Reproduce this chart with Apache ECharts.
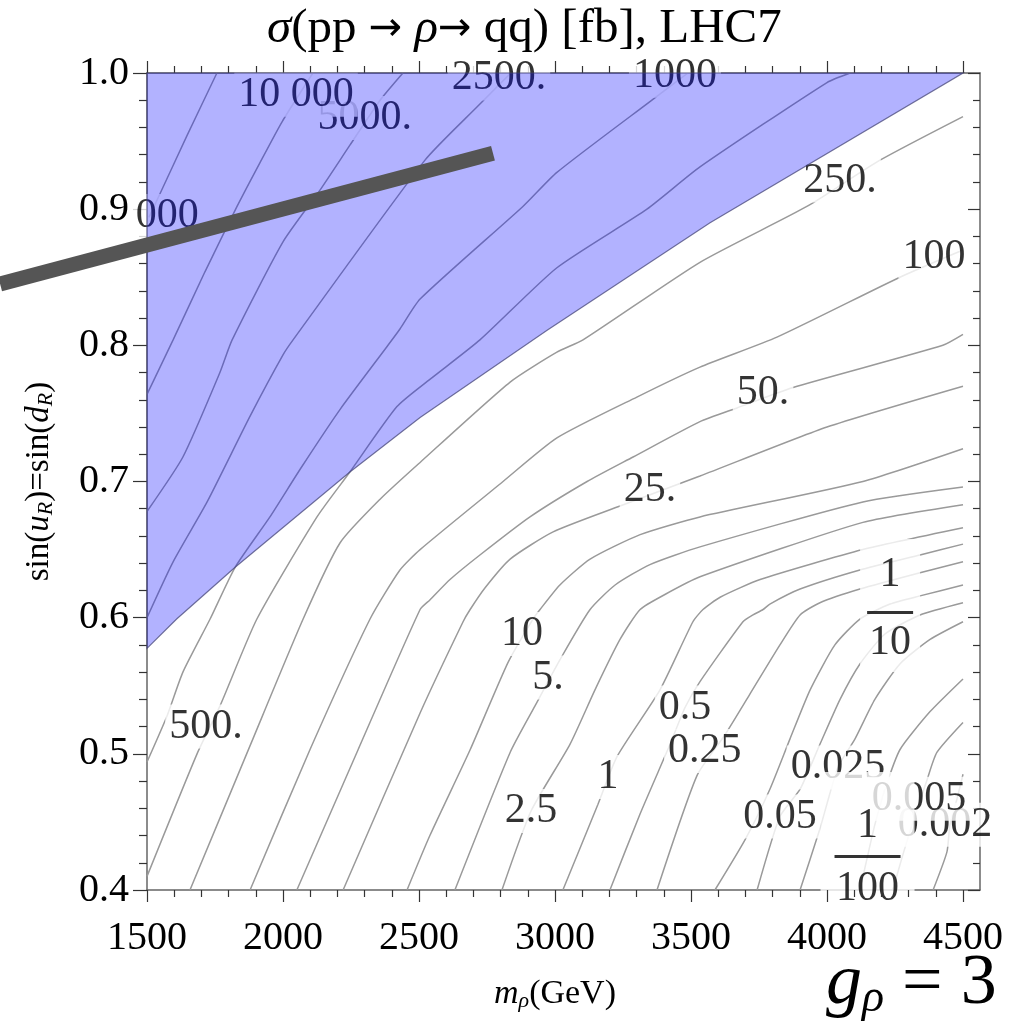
<!DOCTYPE html>
<html>
<head>
<meta charset="utf-8">
<script src="https://cdn.jsdelivr.net/npm/echarts@6/dist/echarts.min.js"></script>
<style>
  html, body { margin: 0; padding: 0; background: #fff; }
  #chart { width: 1009px; height: 1034px; }
</style>
</head>
<body>
<div id="chart"></div>
<script>
const serif = "'Liberation Serif', 'Times New Roman', serif";

// contour lines, [m_rho (GeV), sin(u_R)]
const c25000 = [[1757,1.0],[1647,0.954],[1540,0.908],[1507,0.894]];
const c10000 = [[2110,1.0],[1996,0.964],[1915,0.934],[1831,0.902],[1713,0.854],[1596,0.804],[1500,0.764]];
const c5000 = [[2441,1.0],[2357,0.980],[2246,0.947],[2136,0.914],[2000,0.876],[1813,0.804],[1768,0.780],[1632,0.718],[1500,0.678]];
const c2500 = [[2838,1.0],[2713,0.975],[2522,0.936],[2037,0.804],[2000,0.793],[1879,0.748],[1721,0.685],[1596,0.641],[1500,0.600]];
const c1000 = [[3489,1.0],[3349,0.979],[3007,0.927],[2882,0.902],[2504,0.834],[2430,0.812],[2382,0.799],[2210,0.753],[2063,0.709],[1952,0.674],[1824,0.637],[1732,0.599],[1632,0.560],[1574,0.528],[1500,0.494]];
const c500 = [[4085,1.0],[4000,0.993],[3533,0.931],[3338,0.900],[3007,0.857],[2724,0.804],[2540,0.775],[2419,0.755],[2246,0.707],[2125,0.674],[1904,0.599],[1768,0.535],[1684,0.500],[1500,0.410]];
const c250 = [[4500,0.968],[4195,0.936],[3926,0.902],[3533,0.861],[3103,0.804],[3007,0.795],[2835,0.773],[2504,0.714],[2357,0.687],[2210,0.655],[2074,0.599],[1879,0.506],[1658,0.400]];
const c100 = [[4500,0.870],[4268,0.850],[3816,0.806],[3533,0.784],[3301,0.762],[3007,0.732],[2809,0.700],[2504,0.650],[2430,0.635],[2320,0.599],[2099,0.503],[1879,0.400]];
const c50 = [[4500,0.808],[4426,0.800],[3875,0.769],[3669,0.754],[3533,0.744],[3287,0.718],[3118,0.700],[2908,0.674],[2724,0.646],[2614,0.628],[2540,0.613],[2504,0.606],[2276,0.503],[2051,0.400]];
const c25 = [[4500,0.770],[4000,0.740],[3533,0.704],[3239,0.682],[2993,0.663],[2835,0.643],[2743,0.622],[2688,0.606],[2662,0.597],[2504,0.530],[2221,0.400]];
const c10 = [[4500,0.724],[4132,0.700],[3533,0.674],[3313,0.661],[3129,0.643],[3018,0.624],[2945,0.606],[2919,0.599],[2827,0.567],[2688,0.503],[2540,0.440],[2456,0.400]];
const c5 = [[4500,0.696],[4132,0.685],[3533,0.652],[3349,0.639],[3221,0.624],[3129,0.606],[3018,0.569],[2926,0.535],[2835,0.501],[2632,0.400]];
const c2p5 = [[4500,0.683],[4132,0.670],[3533,0.630],[3404,0.617],[3313,0.606],[3239,0.584],[3147,0.547],[3055,0.507],[2912,0.458],[2805,0.400]];
const c1 = [[4500,0.666],[4132,0.650],[3754,0.628],[3607,0.615],[3544,0.606],[3507,0.597],[3386,0.547],[3228,0.498],[3158,0.463],[3029,0.400]];
const c0p5 = [[4500,0.654],[4342,0.646],[4121,0.635],[3901,0.621],[3790,0.610],[3765,0.606],[3728,0.602],[3691,0.597],[3533,0.553],[3478,0.534],[3423,0.507],[3313,0.456],[3202,0.400]];
const c0p25 = [[4500,0.641],[4342,0.633],[4121,0.621],[3974,0.611],[3901,0.602],[3827,0.580],[3717,0.544],[3625,0.514],[3522,0.484],[3375,0.400]];
const c0p1 = [[4500,0.624],[4342,0.616],[4232,0.610],[4121,0.599],[4029,0.580],[3938,0.547],[3864,0.511],[3790,0.474],[3699,0.437],[3588,0.400]];
const c0p05 = [[4500,0.611],[4342,0.602],[4213,0.588],[4121,0.566],[4048,0.540],[3974,0.507],[3901,0.474],[3827,0.454],[3743,0.400]];
const c0p025 = [[4500,0.597],[4379,0.584],[4268,0.566],[4176,0.540],[4103,0.511],[4040,0.490],[3974,0.445],[3901,0.400]];
const c0p01 = [[4500,0.555],[4379,0.531],[4268,0.503],[4213,0.474],[4176,0.448],[4147,0.423],[4121,0.400]];
const c0p005 = [[4500,0.523],[4404,0.501],[4368,0.481],[4324,0.455],[4279,0.426],[4242,0.400]];
const c0p0025 = [[4500,0.485],[4478,0.467],[4452,0.448],[4441,0.428],[4390,0.400]];

const levels = ['25000','10000','5000','2500','1000','500','250','100','50','25','10','5','2.5','1','0.5','0.25','0.1','0.05','0.025','0.01','0.005','0.0025'];
const contours = [c25000,c10000,c5000,c2500,c1000,c500,c250,c100,c50,c25,c10,c5,c2p5,c1,c0p5,c0p25,c0p1,c0p05,c0p025,c0p01,c0p005,c0p0025];

// blue excluded region (boundary curve, then top-left corner)
const region = [[1500,0.5775],[1609,0.599],[1824,0.637],[2246,0.707],[2504,0.747],[2971,0.811],[3570,0.890],[4500,1.0],[1500,1.0]];

// thick grey bar
const bar = [[960,0.845],[2772,0.941]];

// contour labels
const labelText = ['000','5000.','10 000','2500.','1000','500.','250.','100','50.','25.','10','5.','2.5','1','0.5','0.25',
  '{num1|1}\n{bar1| }\n{den1|10}','0.05','0.025','0.002','0.005','{sp2| }\n{num2|1}\n{bar2| }\n{den2|100}'];
const labelX = [1574,2301,2048,2794,3441,1717,4048,4393,3765,3349,2879,2974,2912,3195,3478,3551,4232,3827,4040,4434,4338,4149];
const labelY = [0.895,0.967,0.984,0.996,0.998,0.520,0.921,0.865,0.765,0.694,0.588,0.556,0.458,0.483,0.534,0.502,0.609,0.454,0.490,0.448,0.467,0.4323];

const xTicks = [1500, 4500, 500];
const yTicks = [0.4, 1.0, 0.1];

const chart = echarts.init(document.getElementById('chart'));

const frameLine = { show: true, lineStyle: { color: '#666', width: 1.5 } };
const tickStyle = { color: '#333', width: 1.2 };

const lineSeries = contours.map((pts, i) => ({
  name: levels[i],
  type: 'line',
  xAxisIndex: 2,
  yAxisIndex: 2,
  data: pts,
  symbol: 'none',
  smooth: 0.2,
  silent: true,
  z: 2,
  lineStyle: { color: '#9a9a9a', width: 1.5 }
}));

const labelData = labelText.map((t, i) => {
  const item = { value: [labelX[i], labelY[i]], label: { formatter: t } };
  if (t.indexOf('bar1') >= 0) item.label.padding = [0, 7];
  if (t.indexOf('bar2') >= 0) item.label.padding = [0, 14];
  return item;
});

const option = {
  animation: false,
  title: {
    text: '{i|σ}(pp {a|→} {i|ρ}{a|→} qq) [fb], LHC7',
    left: 262,
    top: 0,
    textStyle: {
      fontFamily: serif, fontSize: 49, fontWeight: 'normal', color: '#000',
      rich: {
        i: { fontFamily: serif, fontSize: 49, fontStyle: 'italic', color: '#000' },
        a: { fontFamily: 'DejaVu Sans', fontSize: 40, color: '#000' }
      }
    }
  },
  grid: [
    { left: 147, right: 29, top: 73, bottom: 144 },
    { left: 147, right: 46, top: 73, bottom: 144 }
  ],
  xAxis: [
    { gridIndex: 0, type: 'value', min: 1500, max: 4562.5, axisLine: frameLine,
      axisTick: { show: false }, axisLabel: { show: false }, splitLine: { show: false } },
    { gridIndex: 0, type: 'value', position: 'top', min: 1500, max: 4562.5, axisLine: frameLine,
      axisTick: { show: false }, axisLabel: { show: false }, splitLine: { show: false } },
    { gridIndex: 1, type: 'value', min: xTicks[0], max: xTicks[1], interval: xTicks[2],
      z: 10,
      axisLine: { show: false },
      axisTick: { show: true, inside: false, length: 12, lineStyle: tickStyle },
      minorTick: { show: true, splitNumber: 5, length: 7, lineStyle: tickStyle },
      axisLabel: { fontFamily: serif, fontSize: 40, color: '#000', margin: 28, formatter: v => String(v) },
      splitLine: { show: false },
      name: '{i|m}{s|ρ}(GeV)', nameLocation: 'middle', nameGap: 86,
      nameTextStyle: {
        fontFamily: serif, fontSize: 34, color: '#000',
        rich: {
          i: { fontFamily: serif, fontSize: 34, fontStyle: 'italic', color: '#000' },
          s: { fontFamily: serif, fontSize: 22, fontStyle: 'italic', color: '#000', padding: [14, 0, 0, 0] }
        }
      }
    },
    { gridIndex: 1, type: 'value', position: 'top', min: xTicks[0], max: xTicks[1], interval: xTicks[2],
      axisLine: { show: false },
      axisTick: { show: true, inside: false, length: 12, lineStyle: tickStyle },
      minorTick: { show: true, splitNumber: 5, length: 7, lineStyle: tickStyle },
      axisLabel: { show: false }, splitLine: { show: false } }
  ],
  yAxis: [
    { gridIndex: 0, type: 'value', min: 0.4, max: 1, axisLine: frameLine,
      axisTick: { show: false }, axisLabel: { show: false }, splitLine: { show: false } },
    { gridIndex: 0, type: 'value', position: 'right', min: yTicks[0], max: yTicks[1], interval: yTicks[2],
      axisLine: frameLine,
      axisTick: { show: true, inside: true, length: 12, lineStyle: tickStyle },
      minorTick: { show: true, splitNumber: 5, length: 7, lineStyle: tickStyle },
      axisLabel: { show: false }, splitLine: { show: false } },
    { gridIndex: 1, type: 'value', min: yTicks[0], max: yTicks[1], interval: yTicks[2],
      axisLine: { show: false },
      axisTick: { show: true, inside: false, length: 14, lineStyle: tickStyle },
      minorTick: { show: true, splitNumber: 5, length: 8, lineStyle: tickStyle },
      axisLabel: { fontFamily: serif, fontSize: 40, color: '#000', margin: 18, formatter: v => v.toFixed(1) },
      splitLine: { show: false },
      name: 'sin({i|u}{s|R})=sin({i|d}{s|R})', nameLocation: 'middle', nameGap: 90,
      nameTextStyle: {
        fontFamily: serif, fontSize: 33, color: '#000',
        rich: {
          i: { fontFamily: serif, fontSize: 33, fontStyle: 'italic', color: '#000' },
          s: { fontFamily: serif, fontSize: 22, fontStyle: 'italic', color: '#000', padding: [14, 0, 0, 0] }
        }
      }
    }
  ],
  graphic: [{
    type: 'text',
    left: 826,
    top: 948,
    style: {
      text: '{g|g}{s|ρ}{n| = 3}',
      fill: '#000',
      rich: {
        g: { fontFamily: serif, fontSize: 72, fontStyle: 'italic', fill: '#000' },
        s: { fontFamily: serif, fontSize: 46, fontStyle: 'italic', fill: '#000', padding: [30, 0, 0, 0] },
        n: { fontFamily: serif, fontSize: 72, fill: '#000' }
      }
    }
  }],
  series: lineSeries.concat([
    {
      type: 'scatter',
      xAxisIndex: 2,
      yAxisIndex: 2,
      z: 3,
      silent: true,
      clip: false,
      symbolSize: 1,
      itemStyle: { color: 'rgba(0,0,0,0)' },
      data: labelData,
      label: {
        show: true,
        position: 'inside',
        fontFamily: serif,
        fontSize: 42,
        color: '#000',
        backgroundColor: '#fff',
        lineHeight: 44,
        padding: [0, 4],
        rich: {
          num1: { fontFamily: serif, fontSize: 42, color: '#000', lineHeight: 72 },
          bar1: { width: 46, height: 3, lineHeight: 3, backgroundColor: '#000' },
          den1: { fontFamily: serif, fontSize: 42, color: '#000', lineHeight: 58 },
          sp2: { fontSize: 10, lineHeight: 24 },
          num2: { fontFamily: serif, fontSize: 42, color: '#000', lineHeight: 59 },
          bar2: { width: 66, height: 3, lineHeight: 3, backgroundColor: '#000' },
          den2: { fontFamily: serif, fontSize: 42, color: '#000', lineHeight: 62 }
        }
      }
    },
    {
      type: 'custom',
      xAxisIndex: 2,
      yAxisIndex: 2,
      z: 4,
      silent: true,
      data: [region[0]],
      renderItem: (params, api) => ({
        type: 'polygon',
        shape: { points: region.map(p => api.coord(p)) },
        style: { fill: 'rgba(0,0,255,0.3)', stroke: 'rgba(70,70,120,0.75)', lineWidth: 1.2 }
      })
    },
    {
      type: 'custom',
      xAxisIndex: 2,
      yAxisIndex: 2,
      z: 6,
      silent: true,
      data: [bar[0]],
      renderItem: (params, api) => ({
        type: 'polyline',
        shape: { points: bar.map(p => api.coord(p)) },
        style: { stroke: '#555', lineWidth: 15, lineCap: 'butt', fill: null }
      })
    }
  ])
};

chart.setOption(option);
</script>
</body>
</html>
